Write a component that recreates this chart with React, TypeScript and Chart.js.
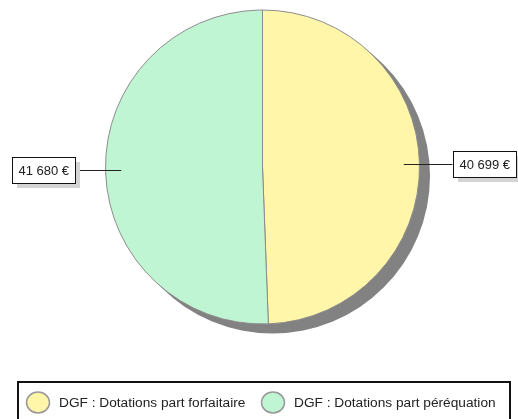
import React, { useEffect, useRef } from "react";
import { Chart, registerables } from "chart.js";

Chart.register(...registerables);

const categories = ["DGF : Dotations part forfaitaire", "DGF : Dotations part péréquation"];
const values = [40699, 41680];
const valueLabels = ["40 699 €", "41 680 €"];
const sliceColors = ["#FFF6AA", "#C0F5D3"];

const FONT = "Arial, 'Liberation Sans', sans-serif";

const decorPlugin = {
  id: "decor",
  beforeDatasetsDraw(chart: any) {
    const meta = chart.getDatasetMeta(0);
    const arc = meta.data[0];
    if (!arc) return;
    const { x, y, outerRadius } = arc.getProps(["x", "y", "outerRadius"], true);
    const ctx = chart.ctx;
    ctx.save();
    ctx.fillStyle = "#828282";
    ctx.beginPath();
    ctx.arc(x + 10, y + 9, outerRadius + 0.5, 0, Math.PI * 2);
    ctx.fill();
    ctx.restore();
  },
  afterDatasetsDraw(chart: any) {
    const meta = chart.getDatasetMeta(0);
    const ctx = chart.ctx;
    ctx.save();
    ctx.font = `13px ${FONT}`;
    meta.data.forEach((arc: any, i: number) => {
      const { x, y, startAngle, endAngle, outerRadius } = arc.getProps(
        ["x", "y", "startAngle", "endAngle", "outerRadius"],
        true
      );
      const mid = (startAngle + endAngle) / 2;
      const r0 = outerRadius * 0.9;
      const px = x + Math.cos(mid) * r0;
      const py = y + Math.sin(mid) * r0;
      const right = Math.cos(mid) >= 0;
      const text = valueLabels[i];
      const tw = ctx.measureText(text).width;
      const bw = Math.round(tw + 12);
      const bh = 26;
      const ex = right ? x + outerRadius + 33 : x - outerRadius - 31;
      ctx.strokeStyle = "#222";
      ctx.lineWidth = 1;
      ctx.beginPath();
      ctx.moveTo(px, Math.round(py) + 0.5);
      ctx.lineTo(ex, Math.round(py) + 0.5);
      ctx.stroke();
      const bx = Math.round(right ? ex : ex - bw);
      const by = Math.round(py - bh / 2);
      ctx.fillStyle = "#d4d4d4";
      ctx.fillRect(bx + 5, by + 5, bw, bh);
      ctx.fillStyle = "#fff";
      ctx.fillRect(bx, by, bw, bh);
      ctx.strokeStyle = "#111";
      ctx.strokeRect(bx + 0.5, by + 0.5, bw, bh);
      ctx.fillStyle = "#222";
      ctx.textBaseline = "middle";
      ctx.textAlign = "left";
      ctx.fillText(text, bx + 6.5, by + bh / 2 + 1);
    });
    ctx.restore();
  },
  afterDraw(chart: any) {
    const ctx = chart.ctx;
    ctx.save();
    ctx.strokeStyle = "#111";
    ctx.lineWidth = 2;
    ctx.strokeRect(18, 382, 492, 60);
    ctx.font = `13.7px ${FONT}`;
    ctx.textBaseline = "middle";
    const starts = [38, 273];
    categories.forEach((c, i) => {
      const cx = starts[i];
      const cy = 402.5;
      ctx.beginPath();
      ctx.ellipse(cx, cy, 11.5, 10.5, 0, 0, Math.PI * 2);
      ctx.fillStyle = sliceColors[i];
      ctx.fill();
      ctx.strokeStyle = "#999";
      ctx.lineWidth = 1.5;
      ctx.stroke();
      ctx.fillStyle = "#222";
      ctx.fillText(c, cx + 21, cy + 0.5);
    });
    ctx.restore();
  },
};

export default function App() {
  const ref = useRef<HTMLCanvasElement>(null);
  useEffect(() => {
    if (!ref.current) return;
    const chart = new Chart(ref.current, {
      type: "pie",
      data: {
        labels: categories,
        datasets: [
          {
            data: values,
            backgroundColor: sliceColors,
            borderColor: "#8c8c8c",
            borderWidth: 1,
          },
        ],
      },
      options: {
        responsive: false,
        animation: false,
        devicePixelRatio: 1,
        layout: { padding: { top: 9, bottom: 94, left: 105, right: 98 } },
        plugins: { legend: { display: false }, tooltip: { enabled: false } },
      },
      plugins: [decorPlugin],
    });
    return () => chart.destroy();
  }, []);
  return (
    <canvas
      ref={ref}
      width={518}
      height={419}
      style={{ position: "fixed", left: 0, top: 0, width: 518, height: 419 }}
    />
  );
}
